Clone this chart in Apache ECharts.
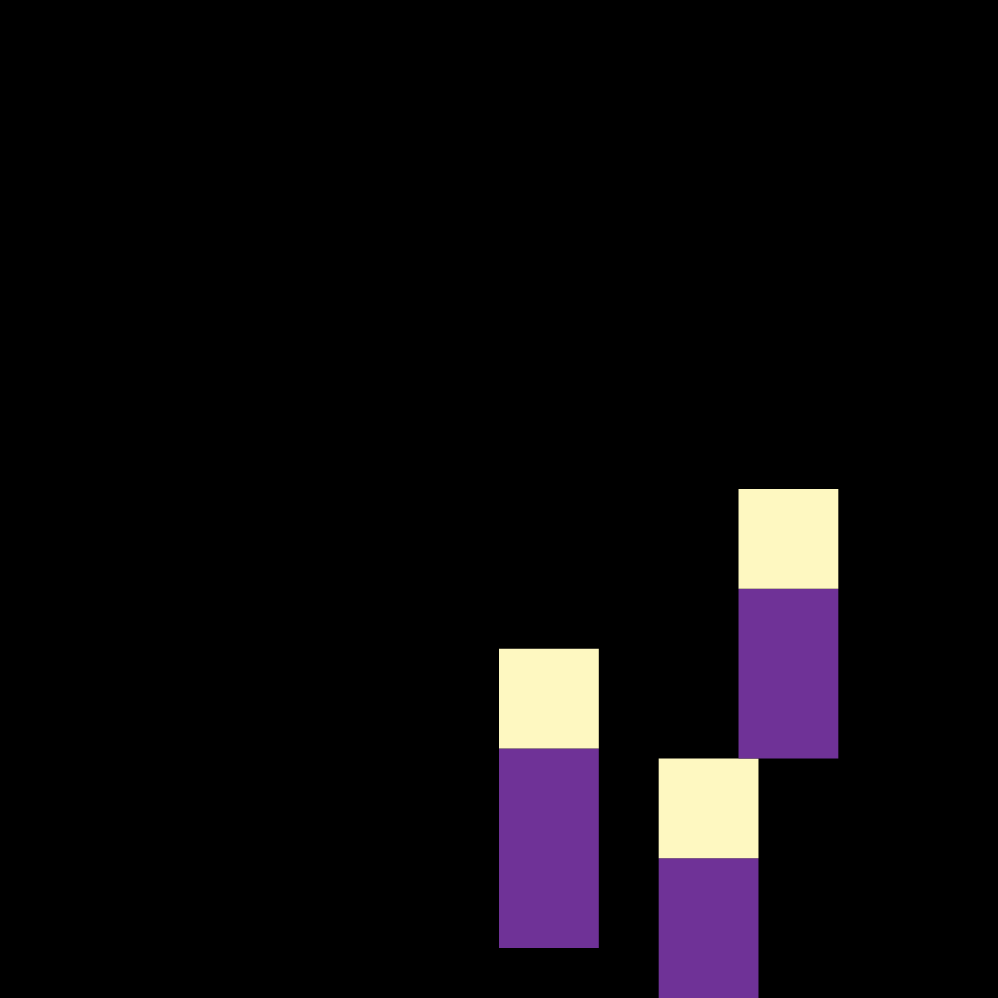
<!DOCTYPE html>
<html>
<head>
<meta charset="utf-8">
<script src="https://cdn.jsdelivr.net/npm/echarts@6/dist/echarts.min.js"></script>
<style>
  html, body { margin: 0; padding: 0; background: #000; }
  #main { width: 998px; height: 998px; }
</style>
</head>
<body>
<div id="main"></div>
<script>
// blocks, in axis units (0..10 both ways, y pointing up)
var blockLeft   = [5.0, 6.6, 7.4];
var blockRight  = [6.0, 7.6, 8.4];
var blockBottom = [0.5, -0.5, 2.4];
var blockSplit  = [2.5, 1.4, 4.1];
var blockTop    = [3.5, 2.4, 5.1];

var lowerColor = '#6f3297';
var upperColor = '#fef8c1';

var rows = [];
for (var i = 0; i < blockLeft.length; i++) {
  rows.push([blockLeft[i], blockRight[i], blockBottom[i], blockSplit[i], blockTop[i]]);
}

// two stacked rects per block, clipped to the grid
function renderBlock(params, api) {
  var x0 = api.value(0), x1 = api.value(1);
  var p0 = api.coord([x0, api.value(2)]);
  var p1 = api.coord([x1, api.value(3)]);
  var p2 = api.coord([x1, api.value(4)]);
  var cs = params.coordSys;
  var clip = function (r) {
    return echarts.graphic.clipRectByRect(r, {x: cs.x, y: cs.y, width: cs.width, height: cs.height});
  };
  var lower = clip({x: p0[0], y: p1[1], width: p1[0] - p0[0], height: p0[1] - p1[1]});
  var upper = clip({x: p0[0], y: p2[1], width: p2[0] - p0[0], height: p1[1] - p2[1]});
  var kids = [];
  if (lower) kids.push({type: 'rect', shape: lower, style: {fill: lowerColor}});
  if (upper) kids.push({type: 'rect', shape: upper, style: {fill: upperColor}});
  return {type: 'group', children: kids};
}

var myChart = echarts.init(document.getElementById('main'));
var option = {
  backgroundColor: '#000000',
  animation: false,
  grid: {left: 0, right: 0, top: 0, bottom: 0},
  xAxis: {type: 'value', min: 0, max: 10, show: false},
  yAxis: {type: 'value', min: 0, max: 10, show: false},
  series: [
    {
      type: 'custom',
      renderItem: renderBlock,
      encode: {x: [0, 1], y: [2, 3, 4]},
      data: rows
    }
  ]
};
option && myChart.setOption(option);
</script>
</body>
</html>
